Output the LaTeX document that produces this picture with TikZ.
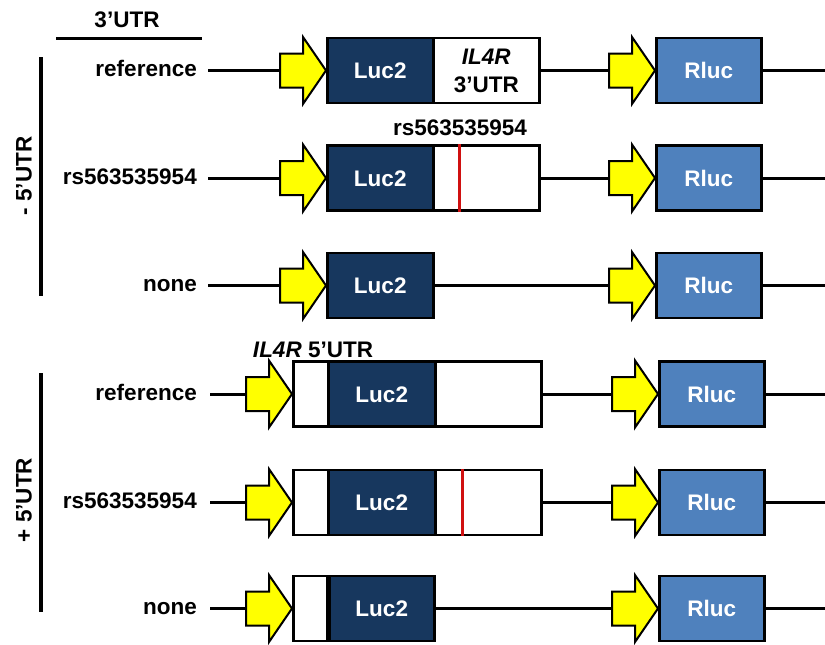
\documentclass[tikz,border=0pt]{standalone}
\usepackage{fontspec}
\setmainfont{Liberation Sans}
\usetikzlibrary{calc}

\definecolor{lucblue}{HTML}{17375E}
\definecolor{rlucblue}{HTML}{4F81BD}
\definecolor{promyellow}{HTML}{FFFF00}
\definecolor{snpred}{HTML}{D01010}

\tikzset{
  every node/.style={font=\fontsize{22.5}{28}\selectfont\bfseries},
  backbone/.style={line width=3pt},
  bracket/.style={line width=3.5pt},
  gene/.style={draw, line width=2.5pt, minimum height=65pt, inner sep=0pt,
    anchor=west, text height=16pt, text depth=0pt},
  lucbox/.style={gene, fill=lucblue, text=white},
  rlucbox/.style={gene, fill=rlucblue, text=white, minimum width=105pt},
  utrbox/.style={gene, fill=white},
  rowlabel/.style={anchor=east, inner sep=0pt, text height=16pt, text depth=4pt},
  promoterfill/.style={draw, line width=2pt, fill=promyellow, line join=miter},
  snp/.style={draw=snpred, line width=3pt},
}

% Yellow promoter arrow: #1 name, #2 x of the tip, #3 y of the axis
\newcommand{\promoter}[3]{%
  \draw[promoterfill] (#2-46,#3-17) -- (#2-23,#3-17) -- (#2-23,#3-33.5)
    -- (#2,#3) -- (#2-23,#3+33.5) -- (#2-23,#3+17) -- (#2-46,#3+17) -- cycle;
  \coordinate (#1-tail) at (#2-46,#3);
  \coordinate (#1-tip) at (#2,#3);
}

\begin{document}
\begin{tikzpicture}[x=1pt, y=-1pt]
\useasboundingbox (0,0) rectangle (825,645);

% ---- header and group brackets
\node (hdr) at (127,20) {3’UTR};
\coordinate (hl) at (56,38);
\coordinate (hr) at (202,38);
\draw[backbone] (hl) -- (hr);

\coordinate (ga) at (41,57);
\coordinate (gb) at (41,296);
\draw[bracket] (ga) -- (gb);
\node[rotate=90] (gminus) at (24,176) {- 5’UTR};

\coordinate (gc) at (41,373);
\coordinate (gd) at (41,612);
\draw[bracket] (gc) -- (gd);
\node[rotate=90] (gplus) at (24,500) {+ 5’UTR};

% ---- row 1: reference, no 5'UTR
\node[rowlabel] (l1) at (197,70.5) {reference};
\promoter{p1}{326}{70.5}
\node[lucbox, minimum width=106pt] (luc1) at (326,70.5) {Luc2};
\node[utrbox, minimum width=106pt] (u1) at (432,70.5) {};
\node[align=center, inner sep=0pt] (u1t) at (u1) {\textit{IL4R}\\3’UTR};
\promoter{q1}{655}{70.5}
\node[rlucbox] (r1) at (655,70.5) {Rluc};
\coordinate (e1) at (825,70.5);
\draw[backbone, shorten <=11pt] (l1.east) -- (p1-tail);
\draw[backbone] (u1.east) -- (q1-tail);
\draw[backbone] (r1.east) -- (e1);

% ---- row 2: rs563535954, no 5'UTR
\node (snplab) at (460,128) {rs563535954};
\node[rowlabel] (l2) at (197,178) {rs563535954};
\promoter{p2}{326}{178}
\node[lucbox, minimum width=106pt] (luc2) at (326,178) {Luc2};
\node[utrbox, minimum width=106pt] (u2) at (432,178) {};
\draw[snp] ($(u2.north west)+(27,0)$) -- ($(u2.south west)+(27,0)$);
\promoter{q2}{655}{178}
\node[rlucbox] (r2) at (655,178) {Rluc};
\coordinate (e2) at (825,178);
\draw[backbone, shorten <=11pt] (l2.east) -- (p2-tail);
\draw[backbone] (u2.east) -- (q2-tail);
\draw[backbone] (r2.east) -- (e2);

% ---- row 3: none, no 5'UTR
\node[rowlabel] (l3) at (197,285.5) {none};
\promoter{p3}{326}{285.5}
\node[lucbox, minimum width=106pt] (luc3) at (326,285.5) {Luc2};
\promoter{q3}{655}{285.5}
\node[rlucbox] (r3) at (655,285.5) {Rluc};
\coordinate (e3) at (825,285.5);
\draw[backbone, shorten <=11pt] (l3.east) -- (p3-tail);
\draw[backbone] (luc3.east) -- (q3-tail);
\draw[backbone] (r3.east) -- (e3);

% ---- row 4: reference, with 5'UTR
\node (fivelab) at (313,350) {\textit{IL4R} 5’UTR};
\node[rowlabel] (l4) at (197,394) {reference};
\promoter{p4}{292}{394}
\node[utrbox, minimum width=35pt] (f4) at (292,394) {};
\node[lucbox, minimum width=107pt] (luc4) at (327,394) {Luc2};
\node[utrbox, minimum width=106pt] (u4) at (434,394) {};
\promoter{q4}{658}{394}
\node[rlucbox] (r4) at (658,394) {Rluc};
\coordinate (e4) at (825,394);
\draw[backbone, shorten <=13pt] (l4.east) -- (p4-tail);
\draw[backbone] (u4.east) -- (q4-tail);
\draw[backbone] (r4.east) -- (e4);

% ---- row 5: rs563535954, with 5'UTR
\node[rowlabel] (l5) at (197,502.5) {rs563535954};
\promoter{p5}{292}{502.5}
\node[utrbox, minimum width=35pt] (f5) at (292,502.5) {};
\node[lucbox, minimum width=107pt] (luc5) at (327,502.5) {Luc2};
\node[utrbox, minimum width=106pt] (u5) at (434,502.5) {};
\draw[snp] ($(u5.north west)+(28,0)$) -- ($(u5.south west)+(28,0)$);
\promoter{q5}{658}{502.5}
\node[rlucbox] (r5) at (658,502.5) {Rluc};
\coordinate (e5) at (825,502.5);
\draw[backbone, shorten <=13pt] (l5.east) -- (p5-tail);
\draw[backbone] (u5.east) -- (q5-tail);
\draw[backbone] (r5.east) -- (e5);

% ---- row 6: none, with 5'UTR
\node[rowlabel] (l6) at (197,608.5) {none};
\promoter{p6}{292}{608.5}
\node[utrbox, minimum width=34pt] (f6) at (292,608.5) {};
\node[lucbox, minimum width=105pt] (luc6) at (328,608.5) {Luc2};
\promoter{q6}{658}{608.5}
\node[rlucbox] (r6) at (658,608.5) {Rluc};
\coordinate (e6) at (825,608.5);
\draw[backbone, shorten <=13pt] (l6.east) -- (p6-tail);
\draw[backbone] (luc6.east) -- (q6-tail);
\draw[backbone] (r6.east) -- (e6);
\end{tikzpicture}
\end{document}
